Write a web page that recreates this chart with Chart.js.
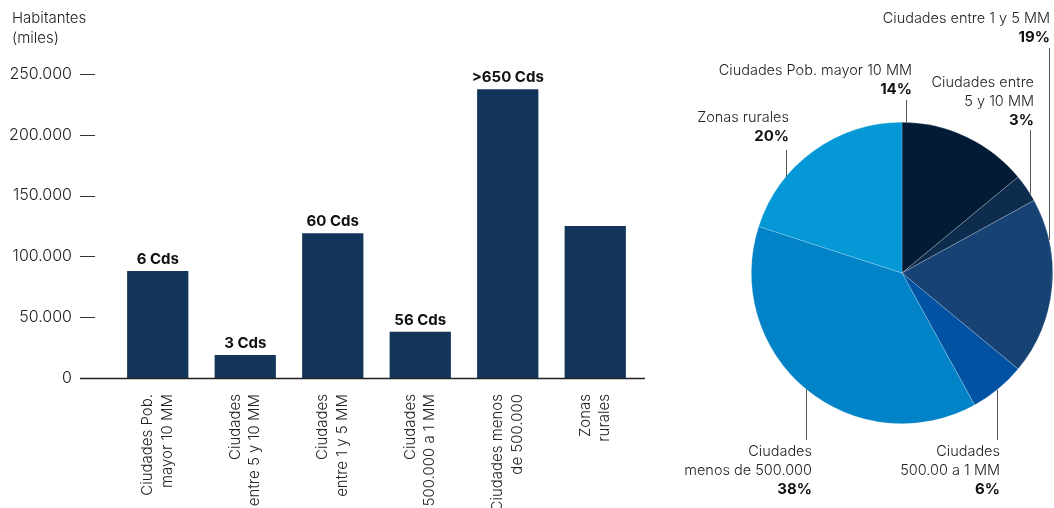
<!DOCTYPE html>
<html>
<head>
<meta charset="utf-8">
<script src="https://cdn.jsdelivr.net/npm/chart.js@4"></script>
<style>
  html, body { margin: 0; padding: 0; background: #fff; }
  #wrap { position: relative; width: 1054px; height: 508px; overflow: hidden; }
  #bar-canvas { position: absolute; left: 0; top: 0; }
  #pie-canvas { position: absolute; left: 660px; top: 0; }
  #y-title { position: absolute; left: 12px; top: 8px; font: 300 15px Inter, sans-serif; color: #222; line-height: 20px; }
</style>
</head>
<body>
<div id="wrap">
  <canvas id="bar-canvas" width="660" height="508"></canvas>
  <canvas id="pie-canvas" width="394" height="508"></canvas>
  <div id="y-title">Habitantes<br>(miles)</div>
</div>
<script>
// bar chart data (thousands of inhabitants)
const categories = [
  ['Ciudades Pob.', 'mayor 10 MM'],
  ['Ciudades', 'entre 5 y 10 MM'],
  ['Ciudades', 'entre 1 y 5 MM'],
  ['Ciudades', '500.000 a 1 MM'],
  ['Ciudades menos', 'de 500.000'],
  ['Zonas', 'rurales']
];
const habitantes = [88000, 19000, 119000, 38000, 237500, 125000];
const cityCounts = ['6 Cds', '3 Cds', '60 Cds', '56 Cds', '>650 Cds', ''];
const yTicks = [0, 50000, 100000, 150000, 200000, 250000];

// pie data (share of population, %)
const pieNames = [
  'Ciudades Pob. mayor 10 MM',
  'Ciudades entre 5 y 10 MM',
  'Ciudades entre 1 y 5 MM',
  'Ciudades 500.00 a 1 MM',
  'Ciudades menos de 500.000',
  'Zonas rurales'
];
const pieShares = [14, 3, 19, 6, 38, 20];

const FONT = 'Inter, "Open Sans", sans-serif';
const TEXT = '#222';

function formatMiles(v) {
  return v.toString().replace(/\B(?=(\d{3})+(?!\d))/g, '.');
}

// draws the base line, the little tick dashes and the "N Cds" labels
const barDecor = {
  id: 'barDecor',
  afterDraw(chart) {
    const { ctx, chartArea, scales } = chart;
    ctx.save();
    ctx.strokeStyle = '#222';
    ctx.lineWidth = 1.5;
    ctx.beginPath();
    ctx.moveTo(80, chartArea.bottom + 0.5);
    ctx.lineTo(645, chartArea.bottom + 0.5);
    ctx.stroke();

    ctx.lineWidth = 1;
    ctx.strokeStyle = '#333';
    yTicks.slice(1).forEach(t => {
      const y = Math.round(scales.y.getPixelForValue(t)) + 0.5;
      ctx.beginPath();
      ctx.moveTo(80, y);
      ctx.lineTo(95, y);
      ctx.stroke();
    });

    ctx.fillStyle = '#111';
    ctx.font = 'bold 15px ' + FONT;
    ctx.textAlign = 'center';
    ctx.textBaseline = 'bottom';
    chart.getDatasetMeta(0).data.forEach((bar, i) => {
      if (cityCounts[i]) ctx.fillText(cityCounts[i], bar.x, bar.y - 4);
    });
    ctx.restore();
  }
};

new Chart(document.getElementById('bar-canvas'), {
  type: 'bar',
  data: {
    labels: categories,
    datasets: [{
      data: habitantes,
      backgroundColor: '#13355a',
      barPercentage: 0.7,
      categoryPercentage: 1.0
    }]
  },
  options: {
    responsive: false,
    devicePixelRatio: 1,
    animation: false,
    layout: { padding: { top: 74, right: 21, left: 0, bottom: 0 } },
    plugins: { legend: { display: false }, tooltip: { enabled: false } },
    scales: {
      x: {
        grid: { display: false },
        border: { display: false },
        ticks: {
          autoSkip: false,
          maxRotation: 90,
          minRotation: 90,
          labelOffset: -10,
          padding: 8,
          color: TEXT,
          font: { family: FONT, size: 15, weight: 300, lineHeight: 1.3 }
        },
        afterFit(scale) { scale.height = 130; }
      },
      y: {
        min: 0,
        max: 250000,
        grid: { display: false, drawTicks: false },
        border: { display: false },
        ticks: {
          stepSize: 50000,
          padding: 42,
          color: TEXT,
          font: { family: FONT, size: 16, weight: 300 },
          callback: v => formatMiles(v)
        },
        afterFit(scale) { scale.width = 114; }
      }
    }
  },
  plugins: [barDecor]
});

// label blocks for the pie: right edge, first line centre, leader line x
const pieLabelLayout = [
  { slice: 0, right: 252, top: 71, lineX: 246, from: 100, lines: ['Ciudades Pob. mayor 10 MM'] },
  { slice: 1, right: 374, top: 83, lineX: 370, from: 130, lines: ['Ciudades entre', '5 y 10 MM'] },
  { slice: 2, right: 390, top: 19, lineX: 389, from: 48, lines: ['Ciudades entre 1 y 5 MM'] },
  { slice: 3, right: 340, top: 452, lineX: 337, from: 440, lines: ['Ciudades', '500.00 a 1 MM'] },
  { slice: 4, right: 152, top: 452, lineX: 146, from: 440, lines: ['Ciudades', 'menos de 500.000'] },
  { slice: 5, right: 129, top: 118, lineX: 126, from: 150, lines: ['Zonas rurales'] }
];

const pieLabels = {
  id: 'pieLabels',
  afterDraw(chart) {
    const { ctx } = chart;
    const arc = chart.getDatasetMeta(0).data[0];
    const cx = arc.x, cy = arc.y, r = arc.outerRadius;
    ctx.save();
    ctx.textAlign = 'right';
    ctx.textBaseline = 'middle';
    pieLabelLayout.forEach(l => {
      const lh = 18.5;
      ctx.fillStyle = TEXT;
      ctx.font = '300 14.5px ' + FONT;
      l.lines.forEach((t, k) => ctx.fillText(t, l.right, l.top + k * lh));
      ctx.fillStyle = '#111';
      ctx.font = 'bold 15px ' + FONT;
      ctx.fillText(pieShares[l.slice] + '%', l.right, l.top + l.lines.length * lh);

      const dx = l.lineX - cx;
      const dy = Math.sqrt(Math.max(r * r - dx * dx, 0));
      const yEdge = l.from < cy ? cy - dy : cy + dy;
      ctx.strokeStyle = '#555';
      ctx.lineWidth = 1;
      ctx.beginPath();
      ctx.moveTo(l.lineX + 0.5, l.from);
      ctx.lineTo(l.lineX + 0.5, yEdge);
      ctx.stroke();
    });
    ctx.restore();
  }
};

new Chart(document.getElementById('pie-canvas'), {
  type: 'pie',
  data: {
    labels: pieNames,
    datasets: [{
      data: pieShares,
      backgroundColor: ['#021c36', '#0e2c4e', '#164274', '#0152a3', '#0383c7', '#0498d6'],
      borderColor: 'rgba(255,255,255,0.35)',
      borderWidth: 0.6
    }]
  },
  options: {
    responsive: false,
    devicePixelRatio: 1,
    animation: false,
    layout: { padding: { left: 91, right: 1, top: 122, bottom: 84 } },
    plugins: { legend: { display: false }, tooltip: { enabled: false } }
  },
  plugins: [pieLabels]
});
</script>
</body>
</html>
